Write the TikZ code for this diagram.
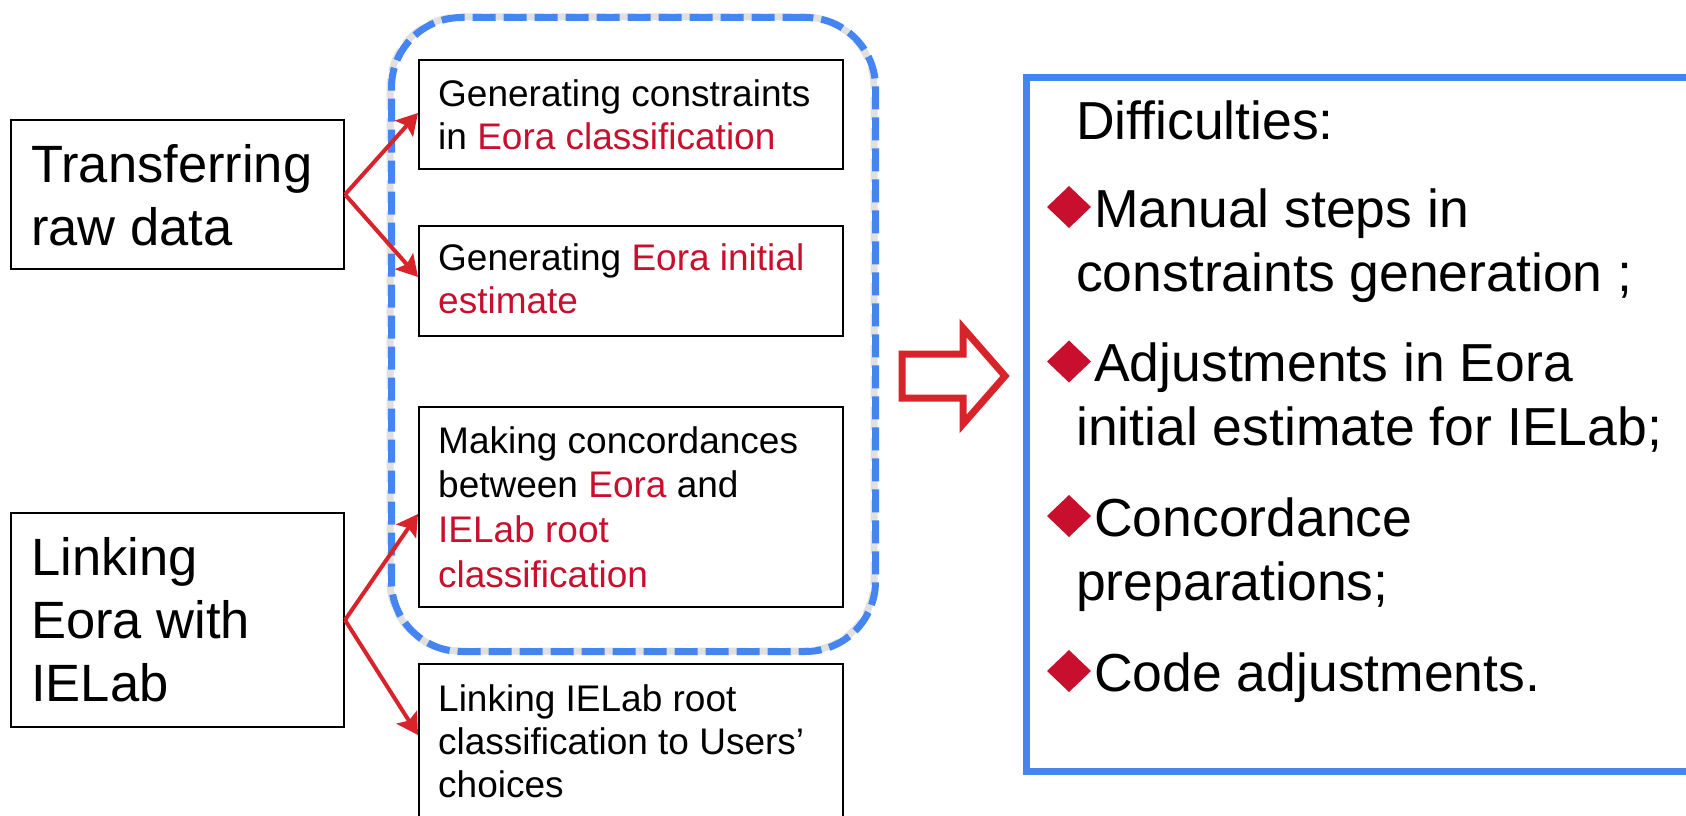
\documentclass[tikz,border=0pt]{standalone}
\usepackage{fontspec}
\setmainfont{Liberation Sans}
\usetikzlibrary{arrows.meta}
\definecolor{gblue}{HTML}{4585F2}
\definecolor{tred}{HTML}{C8102E}
\definecolor{ared}{HTML}{D8232A}
\tikzset{
  box/.style={draw=black, line width=2pt, fill=white, inner sep=0pt, anchor=north west},
  bigtxt/.style={anchor=north west, inner sep=0pt, align=left, font=\fontsize{52.5}{63}\selectfont},
  smalltxt/.style={anchor=north west, inner sep=0pt, align=left, font=\fontsize{37}{43}\selectfont},
  difftxt/.style={anchor=north west, inner sep=0pt, align=left, font=\fontsize{53.5}{64}\selectfont},
  link/.style={draw=ared, line width=4pt, -{Stealth[length=21pt,width=24pt,inset=4pt]}},
  bullet/.style={fill=tred},
  groupbox/.style={draw=gblue, line width=7pt, dash pattern=on 23pt off 8pt, rounded corners=70pt, inner sep=0pt, anchor=north west},
}
\begin{document}
\begin{tikzpicture}[x=1pt, y=-1pt]
\useasboundingbox (0,0) rectangle (1686,816);
\clip (0,0) rectangle (1686,816);
\fill[white] (0,0) rectangle (1686,816);

% dashed group with soft shadow
\draw[black!12, line width=7pt, dash pattern=on 23pt off 8pt, rounded corners=70pt] (390,17) rectangle (874,651);
\node[groupbox, minimum width=484pt, minimum height=634pt] (grp) at (388,14) {};

% left boxes
\node[box, minimum width=333pt, minimum height=149pt] (tr) at (10,119) {};
\node[bigtxt] (trt) at (31,137.9) {\strut Transferring\\\strut raw data};
\node[box, minimum width=333pt, minimum height=214pt] (lk) at (10,512) {};
\node[bigtxt] (lkt) at (31,530.9) {\strut Linking\\\strut Eora with\\\strut IELab};

% middle boxes
\node[box, minimum width=424pt, minimum height=109pt] (b1) at (418,59) {};
\node[smalltxt] (b1t) at (438,75.9) {\strut Generating constraints\\\strut in \textcolor{tred}{Eora classification}};
\node[box, minimum width=424pt, minimum height=110pt] (b2) at (418,225) {};
\node[smalltxt] (b2t) at (438,239.9) {\strut Generating \textcolor{tred}{Eora initial}\\\strut \textcolor{tred}{estimate}};
\node[box, minimum width=424pt, minimum height=200pt] (b3) at (418,406) {};
\node[smalltxt] (b3t) at (438,422.9) {\strut Making concordances\\[1.7pt]\strut between \textcolor{tred}{Eora} and\\[1.7pt]\strut \textcolor{tred}{IELab root}\\[1.7pt]\strut \textcolor{tred}{classification}};
\node[box, minimum width=424pt, minimum height=220pt] (b4) at (418,663) {};
\node[smalltxt] (b4t) at (438,680.9) {\strut Linking IELab root\\\strut classification to Users’\\\strut choices};

% block arrow
\draw[ared, line width=7pt, miter limit=10] (902,354) -- (963,354) -- (963,328) -- (1005,376) -- (963,424) -- (963,398) -- (902,398) -- cycle;

% difficulties box
\node[draw=gblue, line width=7pt, inner sep=0pt, anchor=north west, minimum width=700pt, minimum height=694pt] (dbox) at (1023,74) {};
\node[anchor=base west, inner sep=0pt, font=\fontsize{53.5}{64}\selectfont] (dtitle) at (1076,139) {Difficulties:};
\node[difftxt] (i1) at (1076,182.2) {\strut\hspace*{18pt}Manual steps in\\\strut constraints generation ;};
\node[difftxt] (i2) at (1076,336.7) {\strut\hspace*{18pt}Adjustments in Eora\\\strut initial estimate for IELab;};
\node[difftxt] (i3) at (1076,491.2) {\strut\hspace*{18pt}Concordance\\\strut preparations;};
\node[difftxt] (i4) at (1076,646.2) {\strut\hspace*{18pt}Code adjustments.};
\foreach \n in {i1,i2,i3,i4}{
  \fill[bullet] ([shift={(-7,24.8)}]\n.north west) +(0,-21) -- +(22,0) -- +(0,21) -- +(-22,0) -- cycle;
}

% connectors
\draw[link] (tr.east) -- ([yshift=1.5pt]b1.west);
\draw[link] (tr.east) -- ([yshift=4pt]b2.west);
\draw[link] (lk.east) -- ([yshift=-7pt]b3.west);
\draw[link] (lk.east) -- ([yshift=-72pt]b4.north west);
\end{tikzpicture}
\end{document}
